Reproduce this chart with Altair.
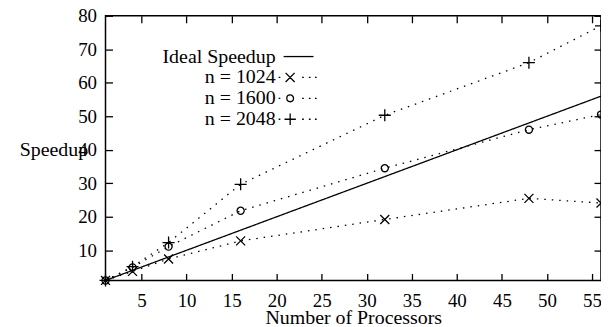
import altair as alt
import pandas as pd

# ---- data ----
procs = [1, 4, 8, 16, 32, 48, 56]
ideal = [1, 4, 8, 16, 32, 48, 56]
n1024 = [1, 3.7, 7.4, 12.8, 19.2, 25.5, 24.1]
n1600 = [1, 4.9, 11.1, 21.8, 34.5, 46.0, 50.5]
n2048 = [1, 5.1, 12.3, 29.7, 50.3, 66.0, 77.0]
series_names = ["Ideal Speedup", "n = 1024", "n = 1600", "n = 2048"]
x_ticks = [5, 10, 15, 20, 25, 30, 35, 40, 45, 50, 55]
y_ticks = [10, 20, 30, 40, 50, 60, 70, 80]

rows = []
for name, vals in zip(series_names, [ideal, n1024, n1600, n2048]):
    for p, v in zip(procs, vals):
        rows.append({"series": name, "procs": p, "speedup": v})
df = pd.DataFrame(rows)

W, H = 498, 266
FONT = "Liberation Serif"
FS = 19
FT = 20

xs = alt.Scale(domain=[1, 56], nice=False, zero=False)
ys = alt.Scale(domain=[1, 80], nice=False, zero=False)

# marker paths (data points)
marker_paths = [
    "M-0.82,-0.82L0.82,0.82M-0.82,0.82L0.82,-0.82",
    "M0.65,0A0.65,0.65 0 1,1 -0.65,0A0.65,0.65 0 1,1 0.65,0Z",
    "M-1.1,0L1.1,0M0,-1.1L0,1.1",
]
# legend sample paths (line sample + marker), 10 px per unit, 38px wide
dots = "M-1.9,0h0.17M0.46,0h0.17M1.14,0h0.17M1.75,0h0.17"
legend_paths = [
    "M-1.4,0L1.6,0",
    "M-1.2,-0.46L-0.29,0.46M-1.2,0.46L-0.29,-0.46" + dots,
    "M-0.4,0A0.34,0.34 0 1,1 -1.08,0A0.34,0.34 0 1,1 -0.4,0Z" + dots,
    "M-1.31,0L-0.17,0M-0.74,-0.57L-0.74,0.57" + dots,
]

tick_axis_common = dict(labels=False, ticks=True, tickSize=7, tickWidth=1.3,
                        tickColor="black", domain=False, grid=False, title=None)

lines = alt.Chart(df).mark_line(color="black", strokeWidth=1.3).encode(
    x=alt.X("procs:Q", scale=xs, axis=alt.Axis(
        orient="bottom", values=x_ticks, ticks=False, tickSize=0, domain=False, grid=False,
        labelFont=FONT, labelFontSize=FS, labelColor="black", labelBaseline="alphabetic",
        labelPadding=26, title="Number of Processors", titleFont=FONT, titleFontSize=FT,
        titleFontWeight="normal", titleColor="black", titleBaseline="alphabetic", titleY=43)),
    y=alt.Y("speedup:Q", scale=ys, axis=alt.Axis(
        orient="left", values=y_ticks, ticks=False, tickSize=0, domain=False, grid=False,
        labelFont=FONT, labelFontSize=FS, labelColor="black", labelPadding=9,
        title="Speedup", titleFont=FONT, titleFontSize=FT, titleFontWeight="normal",
        titleColor="black", titleAngle=0, titleAlign="right", titleBaseline="alphabetic",
        titleX=-18, titleY=140)),
    strokeDash=alt.StrokeDash("series:N", scale=alt.Scale(
        domain=series_names, range=[[1, 0], [1.5, 6], [1.5, 6], [1.5, 6]]), legend=None),
    detail="series:N",
)

points = alt.Chart(df).transform_filter(
    alt.datum.series != "Ideal Speedup"
).mark_point(filled=False, color="black", strokeWidth=1.3, size=121, opacity=1).encode(
    x=alt.X("procs:Q", scale=xs, axis=alt.Axis(orient="top", offset=-H, values=x_ticks, **tick_axis_common)),
    y=alt.Y("speedup:Q", scale=ys, axis=alt.Axis(orient="right", offset=-W, values=y_ticks, **tick_axis_common)),
    shape=alt.Shape("series:N", scale=alt.Scale(domain=series_names[1:], range=marker_paths), legend=None),
)

legend_layer = alt.Chart(df).transform_filter("datum.procs < 0").mark_point(
    filled=False, color="black", strokeWidth=1.3, opacity=1
).encode(
    x=alt.X("procs:Q", scale=xs, axis=alt.Axis(orient="bottom", offset=-H, values=x_ticks, **tick_axis_common)),
    y=alt.Y("speedup:Q", scale=ys, axis=alt.Axis(orient="left", offset=-W, values=y_ticks, **tick_axis_common)),
    shape=alt.Shape("series:N", scale=alt.Scale(domain=series_names, range=legend_paths), legend=alt.Legend(
        orient="none", legendX=182, legendY=30, title=None, padding=0, rowPadding=0,
        symbolSize=400, symbolStrokeWidth=1.3, symbolStrokeColor="black",
        symbolFillColor="transparent", labelFont=FONT, labelFontSize=FT, labelColor="black",
        labelAlign="right", labelBaseline="middle", labelOffset={"expr": "-33"})),
)

chart = alt.layer(lines, points, legend_layer).resolve_scale(
    shape="independent"
).resolve_axis(x="independent", y="independent").properties(
    width=W, height=H,
    padding={"left": 98, "top": 7, "right": 0, "bottom": 46},
    autosize=alt.AutoSizeParams(type="none"),
    background="white",
).configure_view(stroke="black", strokeWidth=1.5)

chart.save("out.html", embed_options={"renderer": "svg", "actions": False})
